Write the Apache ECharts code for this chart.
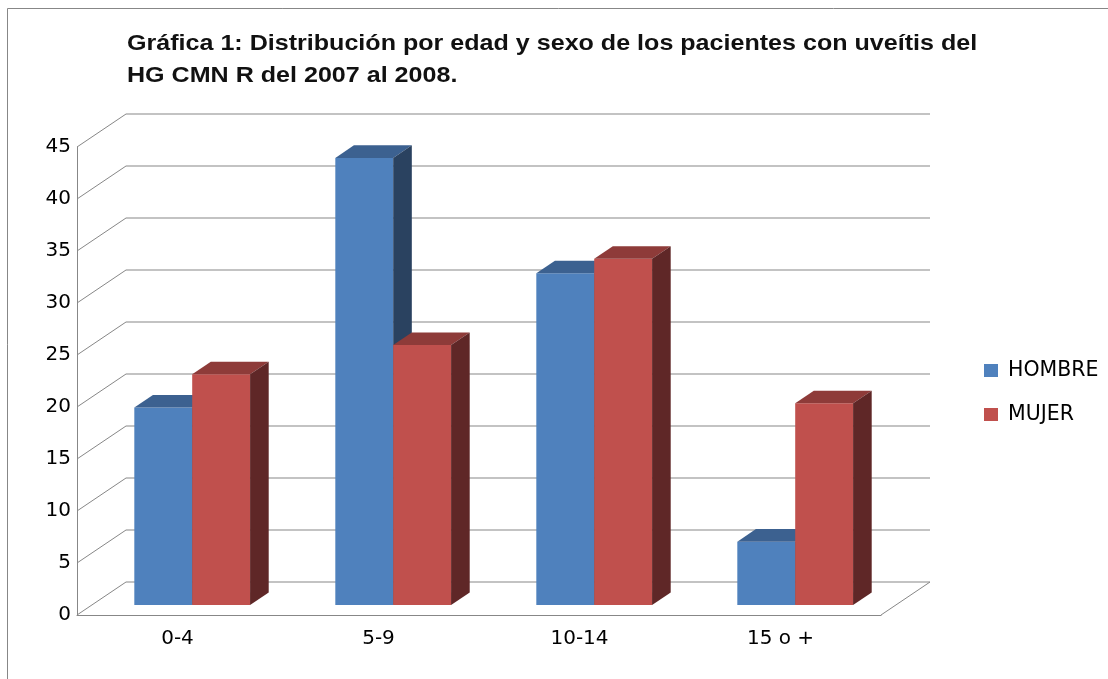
<!DOCTYPE html>
<html>
<head>
<meta charset="utf-8">
<script src="https://cdn.jsdelivr.net/npm/echarts@6/dist/echarts.min.js"></script>
<style>
  html, body { margin: 0; padding: 0; background: #fff; }
  #chart { width: 1108px; height: 679px; }
</style>
</head>
<body>
<div id="chart"></div>
<script>
// Age groups and percentage of patients per sex
const categories = ['0-4', '5-9', '10-14', '15 o +'];
const hombre = [19, 43, 31.9, 6.1];
const mujer = [22.2, 25, 33.3, 19.4];
const yTicks = [0, 5, 10, 15, 20, 25, 30, 35, 40, 45];
const seriesNames = ['HOMBRE', 'MUJER'];
const titleLines = [
  'Gráfica 1: Distribución por edad y sexo de los pacientes con uveítis del',
  'HG CMN R del 2007 al 2008.'
];

// Oblique projection of the box: full depth vector in pixels,
// and where the bars sit inside that depth (fractions).
const DEPTH = [49, -33];
const BAR_FRONT = 0.3;
const BAR_BACK = 0.68;
const BAR_SHARE = 0.288;   // width of one bar relative to a category band

const palette = {
  HOMBRE: { front: '#4f81bd', top: '#3c6190', side: '#2a4260' },
  MUJER:  { front: '#c0504d', top: '#8e3b39', side: '#5f2727' }
};

const GRID_COLOR = '#878787';
const LABEL_FONT = 'DejaVu Sans, sans-serif';

// Back wall gridlines and the left/floor edges of the box
function wallItem(params, api) {
  const cs = params.coordSys;
  const v = api.value(1);
  const y = api.coord([0, v])[1];
  const x0 = cs.x, x1 = cs.x + cs.width;
  const style = { stroke: GRID_COLOR, lineWidth: 1, fill: null };
  const children = [
    { type: 'line', shape: { x1: x0, y1: y, x2: x0 + DEPTH[0], y2: y + DEPTH[1] }, style },
    { type: 'line', shape: { x1: x0 + DEPTH[0], y1: y + DEPTH[1], x2: x1 + DEPTH[0], y2: y + DEPTH[1] }, style }
  ];
  if (v === 0) {
    children.push({ type: 'line', shape: { x1: x1, y1: y, x2: x1 + DEPTH[0], y2: y + DEPTH[1] }, style });
  }
  return { type: 'group', children };
}

// A box-shaped bar: front face, top face and right side face
function barItem(side, colors) {
  return function (params, api) {
    const i = api.value(0);
    const v = api.value(1);
    const top = api.coord([i, v]);
    const base = api.coord([i, 0]);
    const band = api.size([1, 0])[0];
    const w = band * BAR_SHARE;
    const ox = DEPTH[0] * BAR_FRONT, oy = DEPTH[1] * BAR_FRONT;
    const dx = DEPTH[0] * (BAR_BACK - BAR_FRONT), dy = DEPTH[1] * (BAR_BACK - BAR_FRONT);
    const xL = top[0] + ox + (side < 0 ? -w : 0);
    const xR = xL + w;
    const yT = top[1] + oy;
    const yB = base[1] + oy;
    return {
      type: 'group',
      children: [
        { type: 'polygon', shape: { points: [[xL, yT], [xR, yT], [xR, yB], [xL, yB]] }, style: { fill: colors.front } },
        { type: 'polygon', shape: { points: [[xL, yT], [xR, yT], [xR + dx, yT + dy], [xL + dx, yT + dy]] }, style: { fill: colors.top } },
        { type: 'polygon', shape: { points: [[xR, yT], [xR + dx, yT + dy], [xR + dx, yB + dy], [xR, yB]] }, style: { fill: colors.side } }
      ]
    };
  };
}

const chart = echarts.init(document.getElementById('chart'), null, { renderer: 'canvas' });

chart.setOption({
  animation: false,
  backgroundColor: '#ffffff',
  legend: {
    orient: 'vertical',
    left: 984,
    top: 360,
    padding: 0,
    itemWidth: 14,
    itemHeight: 13,
    itemGap: 23,
    selectedMode: false,
    data: seriesNames.map(n => ({ name: n, icon: 'rect' })),
    textStyle: {
      fontFamily: LABEL_FONT,
      fontSize: 20.5,
      lineHeight: 20,
      color: '#000000',
      padding: [0, 0, 0, 5]
    }
  },
  grid: {
    left: 77,
    right: 227,
    top: 147,
    bottom: 64,
    containLabel: false
  },
  xAxis: {
    type: 'category',
    data: categories,
    boundaryGap: true,
    axisLine: { show: true, lineStyle: { color: GRID_COLOR, width: 1 } },
    axisTick: { show: false },
    splitLine: { show: false },
    axisLabel: {
      margin: 14,
      fontFamily: LABEL_FONT,
      fontSize: 20,
      color: '#000000'
    }
  },
  yAxis: {
    type: 'value',
    min: 0,
    max: 45,
    interval: 5,
    axisLine: { show: true, lineStyle: { color: GRID_COLOR, width: 1 } },
    axisTick: { show: false },
    splitLine: { show: false },
    axisLabel: {
      margin: 6,
      fontFamily: LABEL_FONT,
      fontSize: 20,
      color: '#000000'
    }
  },
  graphic: [
    {
      type: 'rect',
      silent: true,
      z: -10,
      shape: { x: 7.5, y: 8.5, width: 1200, height: 800 },
      style: { fill: null, stroke: '#878787', lineWidth: 1 }
    },
    {
      // two-line heading, slightly widened
      type: 'text',
      x: 127,
      y: 28,
      scaleX: 1.14,
      scaleY: 1,
      silent: true,
      style: {
        text: titleLines.join('\n'),
        font: 'bold 22px "Liberation Sans", Arial, sans-serif',
        lineHeight: 32,
        fill: '#111111',
        textVerticalAlign: 'top'
      }
    }
  ],
  series: [
    {
      type: 'custom',
      name: 'walls',
      z: 1,
      silent: true,
      renderItem: wallItem,
      data: yTicks.map(v => [0, v]),
      encode: { x: 0, y: 1 }
    },
    {
      type: 'custom',
      name: seriesNames[0],
      z: 2,
      itemStyle: { color: palette.HOMBRE.front },
      renderItem: barItem(-1, palette.HOMBRE),
      data: hombre.map((v, i) => [i, v]),
      encode: { x: 0, y: 1 }
    },
    {
      type: 'custom',
      name: seriesNames[1],
      z: 3,
      itemStyle: { color: palette.MUJER.front },
      renderItem: barItem(1, palette.MUJER),
      data: mujer.map((v, i) => [i, v]),
      encode: { x: 0, y: 1 }
    }
  ]
});
</script>
</body>
</html>
